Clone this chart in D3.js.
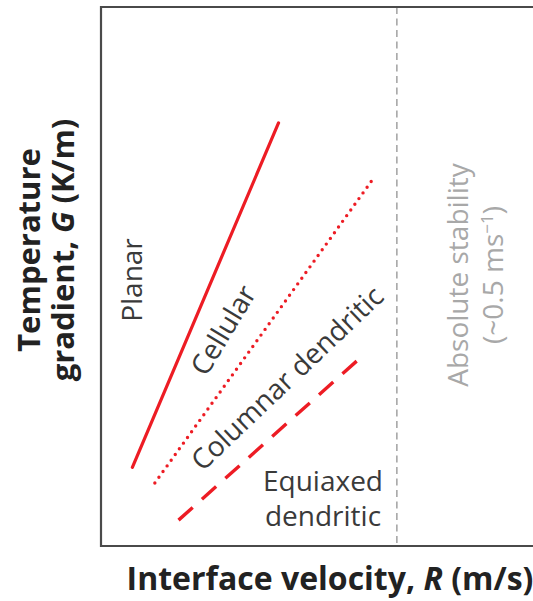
<!DOCTYPE html>
<html>
<head>
<meta charset="utf-8">
<script src="https://cdn.jsdelivr.net/npm/d3@7"></script>
<style>
  html, body { margin: 0; padding: 0; background: #fff; }
  svg { display: block; }
  text { font-family: "Open Sans", "Noto Sans", sans-serif; }
</style>
</head>
<body>
<svg id="chart" width="533" height="601"></svg>
<script>
// Solidification morphology boundaries in G–R space (schematic units)
const boundaryNames = ["Planar/Cellular", "Cellular/Columnar", "Columnar/Equiaxed"];
const boundaryStyles = ["solid", "dotted", "dashed"];
const boundaryR = [[0.053, 0.300], [0.091, 0.461], [0.131, 0.432]];
const boundaryG = [[0.146, 0.785], [0.117, 0.683], [0.048, 0.343]];

const regionLabels = ["Planar", "Cellular", "Columnar dendritic"];
const equiaxedLabel = ["Equiaxed", "dendritic"];
const stabilityR = 0.5;
const stabilityLabel = ["Absolute stability", "(~0.5 ms", "−1", ")"];
const xTitle = ["Interface velocity, ", "R", " (m/s)"];
const yTitle = ["Temperature", "gradient, ", "G", " (K/m)"];

const W = 533, H = 601;
const m = { left: 101, top: 7, right: 0, bottom: 55 };
const svg = d3.select("#chart");

const x = d3.scaleLinear().domain([0, 0.73]).range([m.left, W - m.right]);
const y = d3.scaleLinear().domain([0, 1]).range([H - m.bottom, m.top]);

const red = "#ed1c24";
const ink = "#3a3a3a";
const labelSize = 28;

// Absolute stability limit
svg.append("line")
  .attr("x1", x(stabilityR)).attr("x2", x(stabilityR))
  .attr("y1", y(1)).attr("y2", y(0))
  .attr("stroke", "#8a8a8a").attr("stroke-width", 1.2)
  .attr("stroke-dasharray", "7,4.5");

// Frame: left, top and bottom edges
svg.append("path")
  .attr("d", `M${x(0.73)},${y(1)}H${x(0)}V${y(0)}H${x(0.73)}`)
  .attr("fill", "none").attr("stroke", "#4a4a4a").attr("stroke-width", 2.2);

// Boundary lines
const line = d3.line().x(d => x(d[0])).y(d => y(d[1]));
boundaryNames.forEach((name, i) => {
  const pts = boundaryR[i].map((r, j) => [r, boundaryG[i][j]]);
  const p = svg.append("path")
    .attr("d", line(pts))
    .attr("fill", "none")
    .attr("stroke", red);
  if (boundaryStyles[i] === "solid") {
    p.attr("stroke-width", 3.2).attr("stroke-linecap", "round");
  } else if (boundaryStyles[i] === "dotted") {
    p.attr("stroke-width", 3.4).attr("stroke-linecap", "round").attr("stroke-dasharray", "0,7");
  } else {
    // eight dashes, spaced so the line starts and ends on a dash
    const len = p.node().getTotalLength();
    const dash = 19, n = 8;
    const gap = (len - n * dash) / (n - 1);
    p.attr("stroke-width", 3.4).attr("stroke-dasharray", `${dash},${gap}`);
  }
});

// Region labels (positioned by glyph centre)
function centredLabel(cx, cy, angle, txt, fill) {
  return svg.append("text")
    .attr("transform", `translate(${cx},${cy}) rotate(${angle})`)
    .attr("text-anchor", "middle")
    .attr("dy", "0.36em")
    .attr("font-size", labelSize).attr("fill", fill)
    .text(txt);
}
centredLabel(132, 280, -90, regionLabels[0], ink);
centredLabel(223, 330, -59, regionLabels[1], ink);
centredLabel(287, 378, -43.5, regionLabels[2], ink);

svg.append("text")
  .attr("text-anchor", "middle")
  .attr("font-size", labelSize).attr("fill", ink)
  .selectAll("tspan").data(equiaxedLabel).join("tspan")
  .attr("x", 323).attr("y", (d, i) => 491 + i * 35)
  .text(d => d);

// Absolute stability label
const st = svg.append("text")
  .attr("transform", `translate(468,275) rotate(-90)`)
  .attr("text-anchor", "middle")
  .attr("font-size", labelSize).attr("fill", "#a8a8a8");
st.append("tspan").attr("x", 0).attr("y", 0).text(stabilityLabel[0]);
st.append("tspan").attr("x", 0).attr("y", 35).text(stabilityLabel[1]);
st.append("tspan").attr("dy", -10).attr("font-size", 17).text(stabilityLabel[2]);
st.append("tspan").attr("dy", 10).text(stabilityLabel[3]);

// Axis titles
const xt = svg.append("text")
  .attr("x", 330).attr("y", 590)
  .attr("text-anchor", "middle")
  .attr("font-size", 32).attr("font-weight", 700).attr("fill", "#222");
xt.append("tspan").text(xTitle[0]);
xt.append("tspan").attr("font-style", "italic").text(xTitle[1]);
xt.append("tspan").text(xTitle[2]);

const yt = svg.append("text")
  .attr("transform", `translate(40,250) rotate(-90)`)
  .attr("text-anchor", "middle")
  .attr("font-size", 31).attr("font-weight", 700).attr("fill", "#222");
yt.append("tspan").attr("x", 0).attr("y", 0).text(yTitle[0]);
yt.append("tspan").attr("x", 0).attr("y", 34).text(yTitle[1]);
yt.append("tspan").attr("font-style", "italic").text(yTitle[2]);
yt.append("tspan").text(yTitle[3]);
</script>
</body>
</html>
